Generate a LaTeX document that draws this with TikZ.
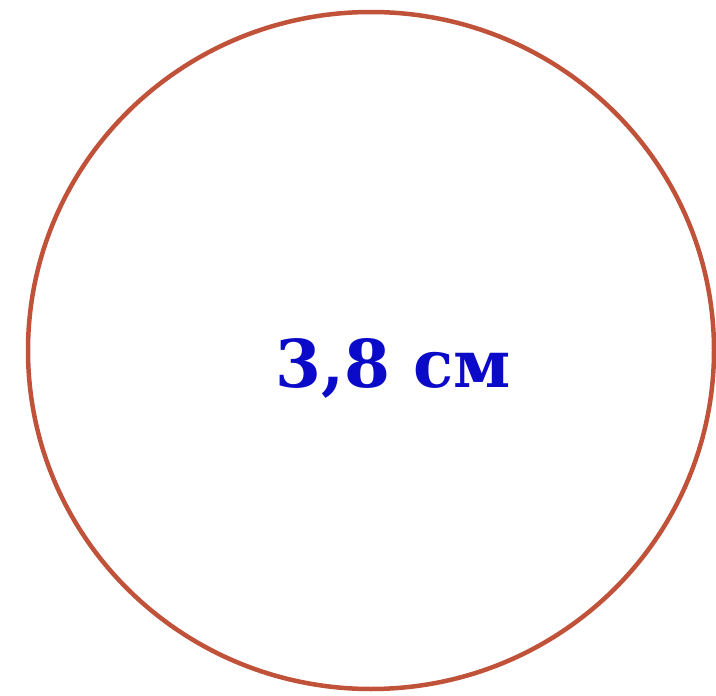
\documentclass[tikz,border=0pt]{standalone}
\usepackage{fontspec}
\newfontfamily\lblfont{DejaVu Serif}
\definecolor{ringred}{RGB}{192,82,58}
\definecolor{lblblue}{RGB}{10,10,200}
\begin{document}
\begin{tikzpicture}[x=1pt,y=1pt,
  ring/.style={draw=ringred,line width=4.5pt},
  lbl/.style={text=lblblue,font=\lblfont\bfseries\fontsize{66}{70}\selectfont,inner sep=0pt,anchor=base}]
\useasboundingbox (0,0) rectangle (716,-696);
\draw[ring] (371,-350.5) ellipse [x radius=343, y radius=338.5];
\node[lbl] (len) at (393.5,-387) {3,8 см};
\end{tikzpicture}
\end{document}
